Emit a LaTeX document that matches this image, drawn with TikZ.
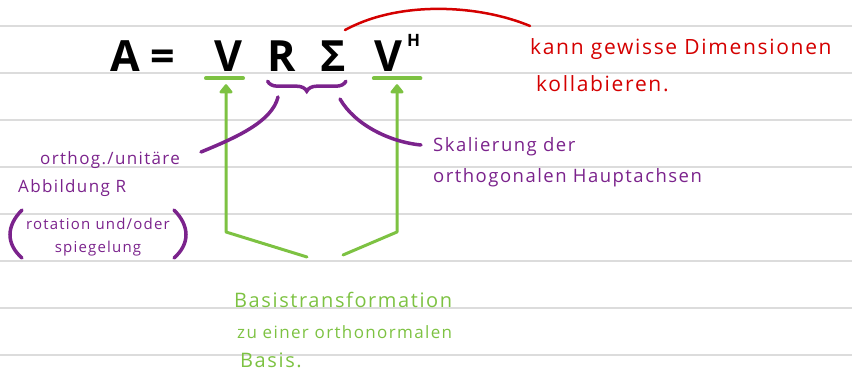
\documentclass[tikz,border=0pt]{standalone}
\usepackage{fontspec}
\setmainfont{Open Sans}
\newfontfamily\hand[LetterSpace=8]{Open Sans}
\usetikzlibrary{arrows.meta,positioning,calc,decorations.pathreplacing}
\definecolor{notered}{RGB}{212,0,0}
\definecolor{notepurple}{RGB}{123,35,140}
\definecolor{notegreen}{RGB}{125,194,66}
\definecolor{ruling}{RGB}{220,220,220}

\begin{document}
\begin{tikzpicture}[x=1pt,y=-1pt,
  sym/.style={inner sep=0pt,anchor=base,font=\bfseries\fontsize{43}{43}\selectfont},
  note/.style={inner sep=0pt,anchor=base west,align=left},
  gline/.style={notegreen,line width=3pt,line cap=round,line join=round},
  garr/.style={gline,-{Triangle[round,length=10pt,width=15pt]}},
  pline/.style={notepurple,line width=3.5pt,line cap=round}
]
  \useasboundingbox (0,0) rectangle (852,374);
  % ruled paper
  \foreach \y in {26,73,...,355}
    \draw[ruling,line width=1.5pt] (0,\y) -- (852,\y);

  % Formula
  \node[sym] (A)   at (125,72) {A};
  \node[sym] (eq)  at (163,72) {=};
  \node[sym] (V)   at (228,72) {V};
  \node[sym] (R)   at (282,72) {R};
  \node[sym] (Sig) at (333,72) {Σ};
  \node[sym] (VH)  at (388,72) {V};
  \node[sym,anchor=base west,font=\bfseries\fontsize{17}{17}\selectfont] (H) at (407,47) {H};
  \draw[gline,line width=4pt] ([xshift=-22pt,yshift=-6pt]V.south) -- ([xshift=15pt,yshift=-6pt]V.south);
  \draw[gline,line width=4pt] ([yshift=-6pt]VH.south west) -- ([yshift=-6pt]VH.south west -| H.east);

  % Basis
  \node[note,text=notegreen,font=\hand\fontsize{20}{20}\selectfont] (basis) at (234,308) {Basistransformation};
  \node[note,text=notegreen,font=\hand\fontsize{17}{17}\selectfont] (zu) at (237,338) {zu einer orthonormalen};
  \node[note,text=notegreen,font=\hand\fontsize{20}{20}\selectfont] (bas) at (240,367) {Basis.};
  \coordinate (gl) at (307,257);
  \coordinate (gr) at (343,255);
  \draw[garr] (gl) -- (226,232) -- ([xshift=-2pt,yshift=-12pt]V.south);
  \draw[garr] (gr) -- (397,232) -- ([xshift=9pt,yshift=-12pt]VH.south);

  % R Sigma
  \draw[pline,decorate,decoration={brace,mirror,amplitude=10pt}] ([yshift=-9pt]R.south west) -- ([yshift=-9pt]Sig.south east);
  \node[note,text=notepurple,font=\hand\fontsize{18.5}{31}\selectfont] (scale) at (433,183) {Skalierung der\\orthogonalen Hauptachsen};
  \node[note,text=notepurple,font=\hand\fontsize{17}{28}\selectfont] (orth) at (18,193) {\hspace*{22pt}orthog./unitäre\\Abbildung R};
  \node[inner sep=0pt,anchor=base,align=center,text=notepurple,font=\hand\fontsize{15}{23}\selectfont] (rot) at (98,253) {rotation und/oder\\spiegelung};
  \draw[pline] (22,210) .. controls (6,226) and (6,244) .. (22,258);
  \draw[pline] (174,210) .. controls (190,226) and (190,244) .. (174,258);
  \draw[pline] (278,97) .. controls (272,122) and (235,138) .. (201,152);
  \draw[pline] (340,99) .. controls (355,125) and (390,142) .. (421,145);

  % collapse
  \node[note,text=notered,font=\hand\fontsize{21}{37}\selectfont] (coll) at (530,92) {kann gewisse Dimensionen\\\hspace*{6pt}kollabieren.};
  \draw[notered,line width=2.5pt,line cap=round] (345,30) .. controls (400,0) and (480,5) .. (530,26);
\end{tikzpicture}
\end{document}
